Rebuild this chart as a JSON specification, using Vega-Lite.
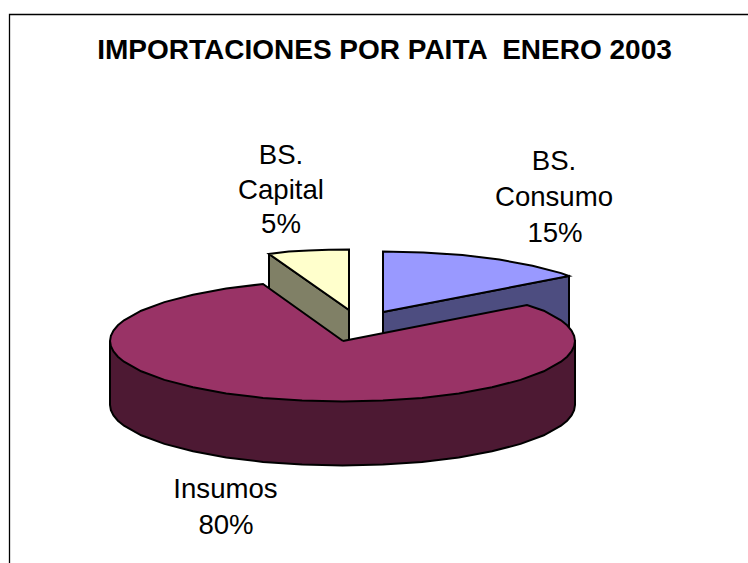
{"$schema":"https://vega.github.io/schema/vega-lite/v6.json","width":748,"height":563,"padding":0,"autosize":{"type":"fit","contains":"padding"},"background":"white","view":{"stroke":null},
"datasets":{
"frame":[{"i":1,"x":9.5,"y":563},{"i":2,"x":9.5,"y":14.5},{"i":3,"x":748,"y":14.5}],
"slices":[
{"part":"BS. Capital lado","i":1,"x":269,"y":254},{"part":"BS. Capital lado","i":2,"x":349,"y":310},{"part":"BS. Capital lado","i":3,"x":349,"y":374},{"part":"BS. Capital lado","i":4,"x":269,"y":318},{"part":"BS. Capital lado","i":5,"x":269,"y":254},
{"part":"BS. Capital","i":1,"x":349,"y":310},{"part":"BS. Capital","i":2,"x":269,"y":254},{"part":"BS. Capital","i":3,"x":288.8,"y":251.6},{"part":"BS. Capital","i":4,"x":308.6,"y":250.4},{"part":"BS. Capital","i":5,"x":328.7,"y":249.7},{"part":"BS. Capital","i":6,"x":349,"y":249.5},{"part":"BS. Capital","i":7,"x":349,"y":310},
{"part":"BS. Consumo lado","i":1,"x":383,"y":312},{"part":"BS. Consumo lado","i":2,"x":569,"y":276},{"part":"BS. Consumo lado","i":3,"x":569,"y":340},{"part":"BS. Consumo lado","i":4,"x":383,"y":376},{"part":"BS. Consumo lado","i":5,"x":383,"y":312},
{"part":"BS. Consumo","i":1,"x":383,"y":312},{"part":"BS. Consumo","i":2,"x":383,"y":251.5},{"part":"BS. Consumo","i":3,"x":423.4,"y":252.4},{"part":"BS. Consumo","i":4,"x":462.5,"y":255.1},{"part":"BS. Consumo","i":5,"x":499.3,"y":259.6},{"part":"BS. Consumo","i":6,"x":532.5,"y":265.7},{"part":"BS. Consumo","i":7,"x":561.1,"y":273.1},{"part":"BS. Consumo","i":8,"x":569,"y":276},{"part":"BS. Consumo","i":9,"x":383,"y":312},
{"part":"Insumos lado","i":1,"x":110,"y":341},{"part":"Insumos lado","i":2,"x":110,"y":405},{"part":"Insumos lado","i":3,"x":110.9,"y":410.3},{"part":"Insumos lado","i":4,"x":113.5,"y":415.5},{"part":"Insumos lado","i":5,"x":117.9,"y":420.7},{"part":"Insumos lado","i":6,"x":124,"y":425.7},{"part":"Insumos lado","i":7,"x":141.2,"y":435.3},{"part":"Insumos lado","i":8,"x":164.4,"y":443.9},{"part":"Insumos lado","i":9,"x":193,"y":451.3},{"part":"Insumos lado","i":10,"x":226.2,"y":457.4},{"part":"Insumos lado","i":11,"x":263,"y":461.9},{"part":"Insumos lado","i":12,"x":302.1,"y":464.6},{"part":"Insumos lado","i":13,"x":342.5,"y":465.5},{"part":"Insumos lado","i":14,"x":382.9,"y":464.6},{"part":"Insumos lado","i":15,"x":422,"y":461.9},{"part":"Insumos lado","i":16,"x":458.8,"y":457.4},{"part":"Insumos lado","i":17,"x":492,"y":451.3},{"part":"Insumos lado","i":18,"x":520.6,"y":443.9},{"part":"Insumos lado","i":19,"x":543.8,"y":435.3},{"part":"Insumos lado","i":20,"x":561,"y":425.7},{"part":"Insumos lado","i":21,"x":567.1,"y":420.7},{"part":"Insumos lado","i":22,"x":571.5,"y":415.5},{"part":"Insumos lado","i":23,"x":574.1,"y":410.3},{"part":"Insumos lado","i":24,"x":575,"y":405},{"part":"Insumos lado","i":25,"x":575,"y":341},{"part":"Insumos lado","i":26,"x":110,"y":341},
{"part":"Insumos","i":1,"x":343,"y":341},{"part":"Insumos","i":2,"x":527,"y":305},{"part":"Insumos","i":3,"x":543.8,"y":310.7},{"part":"Insumos","i":4,"x":561,"y":320.3},{"part":"Insumos","i":5,"x":567.1,"y":325.3},{"part":"Insumos","i":6,"x":571.5,"y":330.5},{"part":"Insumos","i":7,"x":574.1,"y":335.7},{"part":"Insumos","i":8,"x":575,"y":341},{"part":"Insumos","i":9,"x":574.1,"y":346.3},{"part":"Insumos","i":10,"x":571.5,"y":351.5},{"part":"Insumos","i":11,"x":567.1,"y":356.7},{"part":"Insumos","i":12,"x":561,"y":361.7},{"part":"Insumos","i":13,"x":543.8,"y":371.3},{"part":"Insumos","i":14,"x":520.6,"y":379.9},{"part":"Insumos","i":15,"x":492,"y":387.3},{"part":"Insumos","i":16,"x":458.8,"y":393.4},{"part":"Insumos","i":17,"x":422,"y":397.9},{"part":"Insumos","i":18,"x":382.9,"y":400.6},{"part":"Insumos","i":19,"x":342.5,"y":401.5},{"part":"Insumos","i":20,"x":302.1,"y":400.6},{"part":"Insumos","i":21,"x":263,"y":397.9},{"part":"Insumos","i":22,"x":226.2,"y":393.4},{"part":"Insumos","i":23,"x":193,"y":387.3},{"part":"Insumos","i":24,"x":164.4,"y":379.9},{"part":"Insumos","i":25,"x":141.2,"y":371.3},{"part":"Insumos","i":26,"x":124,"y":361.7},{"part":"Insumos","i":27,"x":117.9,"y":356.7},{"part":"Insumos","i":28,"x":113.5,"y":351.5},{"part":"Insumos","i":29,"x":110.9,"y":346.3},{"part":"Insumos","i":30,"x":110,"y":341},{"part":"Insumos","i":31,"x":110.9,"y":335.7},{"part":"Insumos","i":32,"x":113.5,"y":330.5},{"part":"Insumos","i":33,"x":117.9,"y":325.3},{"part":"Insumos","i":34,"x":124,"y":320.3},{"part":"Insumos","i":35,"x":141.2,"y":310.7},{"part":"Insumos","i":36,"x":164.4,"y":302.1},{"part":"Insumos","i":37,"x":193,"y":294.7},{"part":"Insumos","i":38,"x":226.2,"y":288.6},{"part":"Insumos","i":39,"x":263,"y":284},{"part":"Insumos","i":40,"x":343,"y":341}
],
"labels":[
{"text":"BS.","x":554,"y":170},{"text":"Consumo","x":554,"y":206},{"text":"15%","x":555,"y":241.5},
{"text":"BS.","x":281,"y":163.5},{"text":"Capital","x":281,"y":198.5},{"text":"5%","x":281,"y":233},
{"text":"Insumos","x":225.5,"y":498},{"text":"80%","x":226,"y":534}
],
"heading":[{"text":"IMPORTACIONES POR PAITA \u00a0ENERO 2003","x":384.5,"y":59}]
},
"encoding":{
"x":{"field":"x","type":"quantitative","scale":{"domain":[0,748],"nice":false,"zero":false},"axis":null},
"y":{"field":"y","type":"quantitative","scale":{"domain":[563,0],"nice":false,"zero":false},"axis":null}
},
"layer":[
{"data":{"name":"frame"},"mark":{"type":"line","stroke":"#000000","strokeWidth":1.3,"clip":true},"encoding":{"order":{"field":"i","type":"quantitative"}}},
{"data":{"name":"slices"},"mark":{"type":"line","stroke":"#000000","strokeWidth":2,"strokeJoin":"miter"},"encoding":{"order":{"field":"i","type":"quantitative"},
"fill":{"field":"part","type":"nominal","legend":null,"scale":{"domain":["BS. Capital lado","BS. Capital","BS. Consumo lado","BS. Consumo","Insumos lado","Insumos"],"range":["#808066","#FFFFCC","#4D4D80","#9999FF","#4D1933","#993366"]}}}},
{"data":{"name":"labels"},"mark":{"type":"text","font":"Liberation Sans","fontSize":27.6,"align":"center","baseline":"alphabetic","color":"#000000"},"encoding":{"text":{"field":"text","type":"nominal"}}},
{"data":{"name":"heading"},"mark":{"type":"text","font":"Liberation Sans","fontSize":28,"fontWeight":"bold","align":"center","baseline":"alphabetic","color":"#000000"},"encoding":{"text":{"field":"text","type":"nominal"}}}
]}
